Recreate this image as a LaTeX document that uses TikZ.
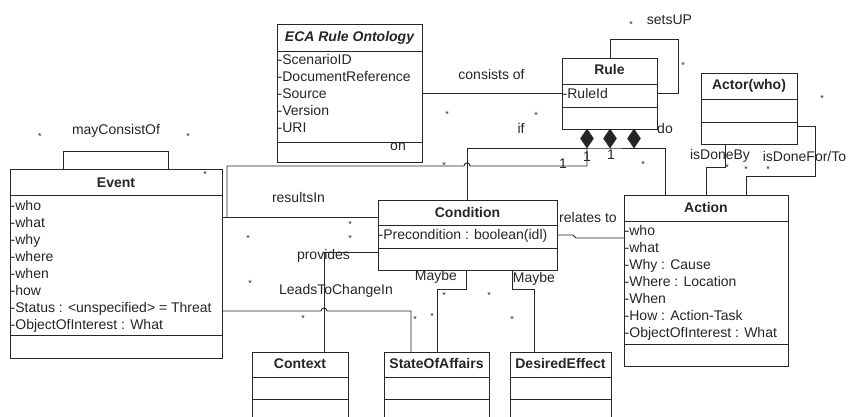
\documentclass[tikz,border=0pt]{standalone}
\usepackage{fontspec}
\setmainfont{Liberation Sans}
\usetikzlibrary{shapes.geometric}
\definecolor{ink}{HTML}{262626}
\begin{document}
\begin{tikzpicture}[x=1pt,y=-1pt,
  cls/.style={draw=ink, line width=0.9pt, inner sep=0pt, outer sep=0pt, anchor=north west, fill=white},
  sep/.style={draw=ink, line width=0.9pt},
  wire/.style={draw=ink, line width=0.9pt},
  title/.style={font=\fontsize{14}{17}\selectfont\bfseries, text=ink, inner sep=0pt, anchor=base},
  attr/.style={font=\fontsize{14}{17}\selectfont, text=ink, inner sep=0pt, anchor=base west},
  lbl/.style={font=\fontsize{14}{17}\selectfont, text=ink, inner sep=0pt},
  mult/.style={font=\fontsize{9}{9}\selectfont, text=ink, inner sep=0pt, anchor=base},
  comp/.style={draw=ink, fill=ink, diamond, inner sep=0pt, outer sep=0pt, minimum width=13pt, minimum height=19pt, anchor=north},
]
\clip (0,0) rectangle (849,417);
\fill[white] (0,0) rectangle (849,417);

% ---------- class boxes ----------
\node[cls, minimum width=145pt, minimum height=138pt] (eca) at (277,24) {};
\draw[sep] (eca.west |- 0,51) -- (eca.east |- 0,51);
\draw[sep] (eca.west |- 0,142) -- (eca.east |- 0,142);
\node[title] (eca-t) at (349.5,42) {\itshape ECA Rule Ontology};
\foreach \t [count=\i from 0] in {-ScenarioID,-DocumentReference,-Source,-Version,-URI}
  \node[attr] (eca-a\i) at (277.5,{65+17*\i}) {\t};

\node[cls, minimum width=95pt, minimum height=71pt] (rule) at (562,58) {};
\draw[sep] (rule.west |- 0,84) -- (rule.east |- 0,84);
\draw[sep] (rule.west |- 0,107) -- (rule.east |- 0,107);
\node[title] (rule-t) at (609.5,75) {Rule};
\node[attr] (rule-a0) at (562.5,98.5) {-RuleId};

\node[cls, minimum width=96pt, minimum height=71pt] (actor) at (701,73) {};
\draw[sep] (actor.west |- 0,99) -- (actor.east |- 0,99);
\draw[sep] (actor.west |- 0,122) -- (actor.east |- 0,122);
\node[title] (actor-t) at (749,89.5) {Actor(who)};

\node[cls, minimum width=212pt, minimum height=189pt] (event) at (10,169) {};
\draw[sep] (event.west |- 0,195) -- (event.east |- 0,195);
\draw[sep] (event.west |- 0,335) -- (event.east |- 0,335);
\node[title] (event-t) at (116,187) {Event};
\foreach \t [count=\i from 0] in {-who,-what,-why,-where,-when,-how,{-Status : <unspecified> = Threat},{-ObjectOfInterest : What}}
  \node[attr] (event-a\i) at (10.5,{210+17*\i}) {\t};

\node[cls, minimum width=179pt, minimum height=70pt] (cond) at (378,200) {};
\draw[sep] (cond.west |- 0,225) -- (cond.east |- 0,225);
\draw[sep] (cond.west |- 0,248) -- (cond.east |- 0,248);
\node[title] (cond-t) at (467.5,217) {Condition};
\node[attr] (cond-a0) at (378.5,239) {-Precondition : boolean(idl)};

\node[cls, minimum width=164pt, minimum height=171pt] (action) at (624,195) {};
\draw[sep] (action.west |- 0,221) -- (action.east |- 0,221);
\draw[sep] (action.west |- 0,344) -- (action.east |- 0,344);
\node[title] (action-t) at (706,212) {Action};
\foreach \t [count=\i from 0] in {-who,-what,{-Why : Cause},{-Where : Location},-When,{-How : Action-Task},{-ObjectOfInterest : What}}
  \node[attr] (action-a\i) at (624.5,{235+17*\i}) {\t};

\node[cls, minimum width=96pt, minimum height=80pt] (context) at (252,352) {};
\draw[sep] (context.west |- 0,377) -- (context.east |- 0,377);
\draw[sep] (context.west |- 0,399) -- (context.east |- 0,399);
\node[title] (context-t) at (300,368) {Context};

\node[cls, minimum width=105pt, minimum height=80pt] (soa) at (384,352) {};
\draw[sep] (soa.west |- 0,377) -- (soa.east |- 0,377);
\draw[sep] (soa.west |- 0,399) -- (soa.east |- 0,399);
\node[title] (soa-t) at (436.5,368) {StateOfAffairs};

\node[cls, minimum width=101pt, minimum height=80pt] (de) at (510,352) {};
\draw[sep] (de.west |- 0,377) -- (de.east |- 0,377);
\draw[sep] (de.west |- 0,399) -- (de.east |- 0,399);
\node[title] (de-t) at (560.5,368) {DesiredEffect};

% ---------- composition diamonds under Rule ----------
\node[comp] (d1) at (587,129) {};
\node[comp] (d2) at (610,129) {};
\node[comp] (d3) at (634,129) {};

% ---------- associations ----------
\draw[wire] (eca.east |- 0,93) -- (rule.west |- 0,93);
\draw[wire] (rule.north -| 610,0) -- (610,39) -- (678,39) -- (678,93) -- (rule.east |- 0,93);
\draw[wire] (d1.south) -- (d2.south) -- (d3.south);
\draw[wire] (d1.south) -- (467,148) -- (cond.north -| 467,0);
\draw[wire] (d3.south) -- (665,148) -- (action.north -| 665,0);
\coordinate (onjoin) at (227,217);
\draw[wire] (d1.south) -- (587,166) -- (470,166) arc[start angle=0,end angle=180,radius=3pt] -- (227,166) -- (onjoin);
\draw[wire] (event.east |- 0,217) -- (cond.west |- 0,217);
\draw[wire] (cond.west |- 0,252) -- (324,252) -- (context.north -| 324,0);
\draw[wire] (event.east |- 0,311) -- (321,311) arc[start angle=180,end angle=0,radius=3pt] -- (411,311) -- (soa.north -| 411,0);
\draw[wire] (cond.south -| 466,0) -- (466,289) -- (437,289) -- (soa.north -| 437,0);
\draw[wire] (cond.south -| 512,0) -- (512,289) -- (534,289) -- (de.north -| 534,0);
\draw[wire] (cond.east |- 0,235) -- (573,235) -- (576,238) -- (action.west |- 0,238);
\draw[wire] (actor.south -| 725,0) -- (725,167) -- (706,167) -- (action.north -| 706,0);
\draw[wire] (actor.east |- 0,126) -- (815,126) -- (815,176) -- (746,176) -- (action.north -| 746,0);
\draw[wire] (event.north -| 63,0) -- (63,151) -- (168,151) -- (event.north -| 168,0);

% ---------- association labels ----------
\node[lbl] (l-cons) at (491.5,74) {consists of};
\node[lbl] (l-sets) at (669.5,20) {setsUP};
\node[lbl] (l-if) at (521,128) {if};
\node[lbl] (l-do) at (665,128) {do};
\node[lbl] (l-on) at (398,147) {on};
\node[lbl] (l-may) at (116,131) {mayConsistOf};
\node[lbl] (l-res) at (298.5,197) {resultsIn};
\node[lbl] (l-prov) at (323.5,256) {provides};
\node[lbl] (l-leads) at (336,291) {LeadsToChangeIn};
\node[lbl] (l-rel) at (588,217) {relates to};
\node[lbl] (l-mb1) at (436,277) {Maybe};
\node[lbl] (l-mb2) at (534,279) {Maybe};
\node[lbl] (l-by) at (720,156) {isDoneBy};
\node[lbl] (l-for) at (804.5,156) {isDoneFor/To};
\node[lbl] (l-one1) at (587,157) {1};
\node[lbl] (l-one2) at (611,155) {1};
\node[lbl] (l-one3) at (563,164) {1};

% ---------- multiplicities ----------
\foreach \mx/\my [count=\k] in {631/23,683/64,822/97,727/166,746/168,768/168,643/163,536/114,447/113,444/164,205/173,40/135,188/135,248/237,250/282,350/223,350/237,303/317,415/318,432/315,444/294,489/294,512/318}
  \node[mult] (m\k) at (\mx,{\my+4.5}) {*};
\end{tikzpicture}
\end{document}
